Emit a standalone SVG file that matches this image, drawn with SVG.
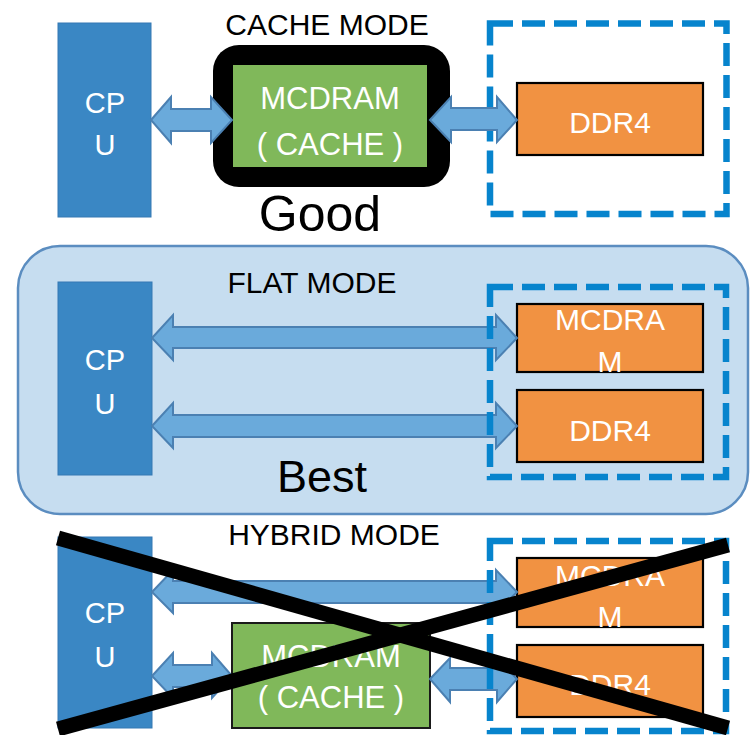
<svg xmlns="http://www.w3.org/2000/svg" width="751" height="735" viewBox="0 0 751 735">
<style>
text{font-family:"Liberation Sans",Arial,sans-serif;text-anchor:middle}
.lbl{fill:#000;font-size:30px}
.big{fill:#000}
.wt{fill:#fff}
.cpu{fill:#3a87c4;stroke:#3579b3;stroke-width:1}
.ora{fill:#f19242;stroke:#000;stroke-width:2.2}
.grn{fill:#80b85a}
.grn2{fill:#80b85a;stroke:#1a1a1a;stroke-width:2}
.dash{fill:none;stroke:#0784cd;stroke-width:6.5;stroke-dasharray:23 9}
.arr{fill:#6aaadb;stroke:#4b80b2;stroke-width:2;stroke-linejoin:miter}
.cross{stroke:#000;stroke-width:15;stroke-linecap:butt}
</style>
<rect width="751" height="735" fill="#fff"/>

<!-- CACHE MODE section -->
<g id="cache-title"><text class="lbl" x="327" y="35">CACHE MODE</text></g>
<g id="cache-cpu">
<rect class="cpu" x="58" y="23" width="93" height="194"/>
<text class="wt" x="105" y="113" font-size="29">CP</text>
<text class="wt" x="105" y="155" font-size="29">U</text>
</g>
<g id="cache-mcdram">
<rect x="213" y="45" width="237" height="142" rx="26" fill="#000"/>
<rect class="grn" x="233" y="65" width="194" height="102"/>
<text class="wt" x="330" y="109" font-size="31">MCDRAM</text>
<text class="wt" x="330" y="155" font-size="31">( CACHE )</text>
</g>
<g id="cache-good"><text class="big" x="320" y="231" font-size="50">Good</text></g>
<g id="cache-ddr-group"><rect class="dash" x="490" y="23.5" width="236.5" height="190.5"/></g>
<g id="cache-ddr4">
<rect class="ora" x="517" y="83" width="186" height="72"/>
<text class="wt" x="610" y="133" font-size="30">DDR4</text>
</g>

<!-- FLAT MODE section -->
<g id="flat-panel"><rect x="18" y="246" width="730" height="268" rx="42" fill="#c6ddf0" stroke="#5b8dc0" stroke-width="2.5"/></g>
<g id="flat-title"><text class="lbl" x="312" y="293">FLAT MODE</text></g>
<g id="flat-cpu">
<rect class="cpu" x="58" y="282" width="94" height="193"/>
<text class="wt" x="105" y="370" font-size="29">CP</text>
<text class="wt" x="105" y="414" font-size="29">U</text>
</g>
<g id="flat-mcdram">
<rect class="ora" x="517" y="304" width="186" height="68"/>
<text class="wt" x="610" y="330" font-size="30">MCDRA</text>
<text class="wt" x="610" y="372" font-size="30">M</text>
</g>
<g id="flat-ddr4">
<rect class="ora" x="517" y="390" width="186" height="72"/>
<text class="wt" x="610" y="441" font-size="30">DDR4</text>
</g>
<g id="flat-best"><text class="big" x="322" y="492" font-size="45">Best</text></g>

<!-- HYBRID MODE section -->
<g id="hybrid-title"><text class="lbl" x="334" y="545">HYBRID MODE</text></g>
<g id="hybrid-cpu">
<rect class="cpu" x="58" y="537" width="94" height="191"/>
<text class="wt" x="105" y="623" font-size="29">CP</text>
<text class="wt" x="105" y="667" font-size="29">U</text>
</g>
<g id="hybrid-cache">
<rect class="grn2" x="232" y="623" width="198" height="105"/>
<text class="wt" x="331" y="667" font-size="31">MCDRAM</text>
<text class="wt" x="331" y="708" font-size="31">( CACHE )</text>
</g>
<g id="hybrid-mcdram">
<rect class="ora" x="517" y="558" width="186" height="69"/>
<text class="wt" x="610" y="586" font-size="30">MCDRA</text>
<text class="wt" x="610" y="627" font-size="30">M</text>
</g>
<g id="hybrid-ddr4">
<rect class="ora" x="517" y="645" width="186" height="72"/>
<text class="wt" x="610" y="695" font-size="30">DDR4</text>
</g>

<!-- connectors -->
<g id="connectors">
<polygon class="arr" points="151,120 171,97 171,109 211,109 211,97 232,120 211,143 211,131 171,131 171,143"/>
<polygon class="arr" points="430,120 451,97 451,108 497,108 497,97 517,120 497,142 497,130 451,130 451,142"/>
<polygon class="arr" points="152,338 173,315 173,327 496,327 496,315 517,338 496,360 496,348 173,348 173,360"/>
<polygon class="arr" points="152,426 173,403 173,415 496,415 496,403 517,426 496,448 496,437 173,437 173,448"/>
<polygon class="arr" points="152,592 173,570 173,581 496,581 496,570 517,592 496,613 496,603 173,603 173,613"/>
<polygon class="arr" points="152,676 173,653 173,665 212,665 212,653 232,676 212,698 212,687 173,687 173,698"/>
<polygon class="arr" points="430,679 450,658 450,668 497,668 497,658 517,679 497,702 497,690 450,690 450,702"/>
</g>

<g id="flat-dashed"><rect class="dash" x="490" y="287" width="236" height="190"/></g>
<g id="hybrid-dashed"><rect class="dash" x="490" y="541" width="236" height="190"/></g>

<g id="hybrid-cross">
<line class="cross" x1="58" y1="538" x2="728" y2="728"/>
<line class="cross" x1="58" y1="729" x2="728" y2="545"/>
</g>
</svg>
